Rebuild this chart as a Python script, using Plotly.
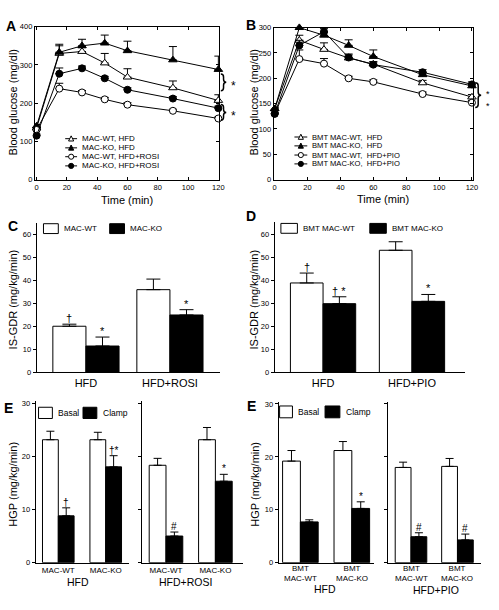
import plotly.graph_objects as go

W, H = 499, 610
FONT = "Liberation Sans, Arial, sans-serif"

# ---------------- data ----------------
time_min = [0, 15, 30, 45, 60, 90, 120]

a_wt_hfd = [135, 330, 335, 305, 268, 240, 207]
a_wt_hfd_err = [4, 20, 10, 25, 22, 18, 15]
a_ko_hfd = [140, 333, 350, 357, 337, 313, 288]
a_ko_hfd_err = [4, 21, 17, 21, 25, 35, 35]
a_wt_rosi = [130, 238, 228, 210, 196, 180, 160]
a_wt_rosi_err = [4, 14, 5, 5, 5, 4, 4]
a_ko_rosi = [115, 277, 291, 265, 235, 212, 187]
a_ko_rosi_err = [4, 15, 6, 5, 5, 5, 5]
a_names = ["MAC-WT, HFD", "MAC-KO, HFD", "MAC-WT, HFD+ROSI", "MAC-KO, HFD+ROSI"]

b_wt_hfd = [140, 275, 257, 240, 228, 191, 163]
b_wt_hfd_err = [3, 10, 13, 8, 5, 5, 5]
b_ko_hfd = [140, 300, 285, 265, 243, 207, 185]
b_ko_hfd_err = [3, 5, 5, 11, 13, 5, 5]
b_wt_pio = [130, 238, 229, 200, 193, 169, 152]
b_wt_pio_err = [3, 18, 10, 4, 4, 4, 4]
b_ko_pio = [130, 265, 292, 241, 227, 212, 188]
b_ko_pio_err = [3, 10, 6, 5, 5, 5, 5]
b_names = ["BMT MAC-WT,\u00a0 HFD", "BMT MAC-KO,\u00a0 HFD",
           "BMT MAC-WT,\u00a0 HFD+PIO", "BMT MAC-KO,\u00a0 HFD+PIO"]

c_groups = ["HFD", "HFD+ROSI"]
c_wt = [20.1, 36.0]
c_wt_err = [0.9, 4.6]
c_ko = [11.5, 25.0]
c_ko_err = [3.9, 2.3]
c_marks_wt = ["†", ""]
c_marks_ko = ["*", "*"]

d_groups = ["HFD", "HFD+PIO"]
d_wt = [38.9, 53.1]
d_wt_err = [4.3, 3.7]
d_ko = [29.9, 30.9]
d_ko_err = [3.0, 3.0]
d_marks_wt = ["†", ""]
d_marks_ko = ["† *", "*"]

e1_groups = ["MAC-WT", "MAC-KO"]
e1_hfd_basal = [23.1, 23.1]
e1_hfd_basal_err = [1.6, 1.4]
e1_hfd_clamp = [8.8, 18.0]
e1_hfd_clamp_err = [1.5, 2.1]
e1_hfd_marks = ["†", "†*"]
e1_rosi_basal = [18.3, 23.1]
e1_rosi_basal_err = [1.3, 2.3]
e1_rosi_clamp = [5.0, 15.3]
e1_rosi_clamp_err = [0.75, 1.3]
e1_rosi_marks = ["#", "*"]

e2_groups = ["BMT<br>MAC-WT", "BMT<br>MAC-KO"]
e2_hfd_basal = [19.2, 21.2]
e2_hfd_basal_err = [2.0, 1.7]
e2_hfd_clamp = [7.7, 10.25]
e2_hfd_clamp_err = [0.4, 1.25]
e2_hfd_marks = ["", "*"]
e2_pio_basal = [18.0, 18.2]
e2_pio_basal_err = [1.0, 1.5]
e2_pio_clamp = [4.9, 4.3]
e2_pio_clamp_err = [0.75, 1.1]
e2_pio_marks = ["#", "#"]


def PX(x):
    return x / W


def PY(y):
    return 1 - y / H


fig = go.Figure()
shapes = []
annos = []


def txt(x, y, s, size, bold=False, angle=0, xanchor="center", yanchor="middle"):
    annos.append(dict(x=PX(x), y=PY(y), xref="paper", yref="paper", text=s,
                      showarrow=False, textangle=angle, xanchor=xanchor, yanchor=yanchor,
                      font=dict(family=FONT, size=size, color="black",
                                weight="bold" if bold else "normal")))


# --------------- line panels ---------------
def add_line(x, y, err, sym, fill, xa, ya):
    fig.add_trace(go.Scatter(
        x=x, y=y, mode="lines+markers", xaxis=xa, yaxis=ya, showlegend=False, cliponaxis=False,
        line=dict(color="black", width=1),
        marker=dict(symbol=sym, size=7 if sym == "circle" else 7.5, color=fill,
                    line=dict(color="black", width=1)),
        error_y=dict(type="data", array=err, arrayminus=[0] * len(err), symmetric=False,
                     color="black", thickness=1, width=4)))


line_specs = [("triangle-up", "white"), ("triangle-up", "black"), ("circle", "white"), ("circle", "black")]
for (s, f), yv, ev in zip(line_specs, [a_wt_hfd, a_ko_hfd, a_wt_rosi, a_ko_rosi],
                          [a_wt_hfd_err, a_ko_hfd_err, a_wt_rosi_err, a_ko_rosi_err]):
    add_line(time_min, yv, ev, s, f, "x", "y")
for (s, f), yv, ev in zip(line_specs, [b_wt_hfd, b_ko_hfd, b_wt_pio, b_ko_pio],
                          [b_wt_hfd_err, b_ko_hfd_err, b_wt_pio_err, b_ko_pio_err]):
    add_line(time_min, yv, ev, s, f, "x2", "y2")


# --------------- bar panels ---------------
def add_bars(cats, basal, berr, clamp, cerr, xa, ya, w, cap, marks_w=None, marks_k=None, msize=10):
    xi = list(range(len(cats)))
    fig.add_trace(go.Bar(x=xi, y=basal, width=[w] * len(xi), offset=[-w] * len(xi),
                         xaxis=xa, yaxis=ya, showlegend=False,
                         marker=dict(color="white", line=dict(color="black", width=1)),
                         error_y=dict(type="data", array=berr, arrayminus=[0] * len(xi), symmetric=False,
                                      color="black", thickness=1, width=cap)))
    fig.add_trace(go.Bar(x=xi, y=clamp, width=[w] * len(xi), offset=[0] * len(xi),
                         xaxis=xa, yaxis=ya, showlegend=False,
                         marker=dict(color="black", line=dict(color="black", width=1)),
                         error_y=dict(type="data", array=cerr, arrayminus=[0] * len(xi), symmetric=False,
                                      color="black", thickness=1, width=cap)))
    for marks, vals, errs, off in [(marks_w, basal, berr, -w / 2), (marks_k, clamp, cerr, w / 2)]:
        if not marks:
            continue
        for i, m in enumerate(marks):
            if m:
                annos.append(dict(x=i + off, y=vals[i] + errs[i], xref=xa, yref=ya, text=m,
                                  showarrow=False, yanchor="bottom", yshift=-2,
                                  font=dict(family=FONT, size=msize, color="black")))


add_bars(c_groups, c_wt, c_wt_err, c_ko, c_ko_err, "x3", "y3", 0.394, 7, c_marks_wt, c_marks_ko, 11)
add_bars(d_groups, d_wt, d_wt_err, d_ko, d_ko_err, "x4", "y4", 0.367, 7, d_marks_wt, d_marks_ko, 11)
add_bars(e1_groups, e1_hfd_basal, e1_hfd_basal_err, e1_hfd_clamp, e1_hfd_clamp_err, "x5", "y5",
         0.333, 4, None, e1_hfd_marks)
add_bars(e1_groups, e1_rosi_basal, e1_rosi_basal_err, e1_rosi_clamp, e1_rosi_clamp_err, "x6", "y6",
         0.34, 4, None, e1_rosi_marks)
add_bars(e2_groups, e2_hfd_basal, e2_hfd_basal_err, e2_hfd_clamp, e2_hfd_clamp_err, "x7", "y7",
         0.346, 4, None, e2_hfd_marks)
add_bars(e2_groups, e2_pio_basal, e2_pio_basal_err, e2_pio_clamp, e2_pio_clamp_err, "x8", "y8",
         0.34, 4, None, e2_pio_marks)

# two-line category labels of the BMT panels, placed under their bars
for xa in ["x7", "x8"]:
    for i, lab in enumerate(e2_groups):
        annos.append(dict(x=i, y=PY(578), xref=xa, yref="paper", text=lab, showarrow=False,
                          yanchor="middle", font=dict(family=FONT, size=8, color="black")))

# --------------- axes ---------------
tickf = dict(family=FONT, size=7.5, color="black")


def box_axes(xl, xr, yt, yb, xr_, yr_, ydt):
    common = dict(showline=True, linecolor="black", linewidth=1, mirror="ticks", ticks="inside",
                  ticklen=3, tickcolor="black", showgrid=False, zeroline=False, tickfont=tickf)
    xa = dict(domain=[PX(xl), PX(xr)], range=xr_, tickmode="array", tickvals=list(range(0, 121, 20)), **common)
    ya = dict(domain=[PY(yb), PY(yt)], range=yr_, dtick=ydt, tick0=0, **common)
    return xa, ya


def bar_axes(xl, xr, yt, yb, xr_, yr_, cats, ylabels=True, xfont=11, ydt=10, xlabels=True):
    xa = dict(domain=[PX(xl), PX(xr)], range=xr_, showline=True, linecolor="black", linewidth=1,
              ticks="", showgrid=False, zeroline=False, tickmode="array",
              tickvals=list(range(len(cats))), ticktext=cats, showticklabels=xlabels,
              tickfont=dict(family=FONT, size=xfont, color="black"))
    ya = dict(domain=[PY(yb), PY(yt)], range=yr_, showline=True, linecolor="black", linewidth=1,
              ticks="outside", ticklen=3, tickcolor="black", showgrid=False, zeroline=False,
              dtick=ydt, tick0=0, showticklabels=ylabels, tickfont=tickf)
    return xa, ya


xa1, ya1 = box_axes(34.3, 221, 23, 178.3, [-1.1, 120.65], [0, 400], 100)
xa2, ya2 = box_axes(276, 478, 24, 178.3, [-0.6, 120.8], [0, 300], 50)
xa3, ya3 = bar_axes(36, 222, 222, 374, [-0.588, 1.6], [0, 65.1], c_groups)
xa4, ya4 = bar_axes(277, 470, 221, 374, [-0.544, 1.6], [0, 65.5], d_groups)
xa5, ya5 = bar_axes(35, 130, 403, 567, [-0.479, 1.5], [0, 30.37], e1_groups, True, 8)
xa6, ya6 = bar_axes(143, 245, 403, 567, [-0.48, 1.56], [0, 30.37], e1_groups, False, 8)
xa7, ya7 = bar_axes(281, 378, 404, 567, [-0.423, 1.44], [0, 30.37], e2_groups, True, 8, xlabels=False)
xa8, ya8 = bar_axes(392, 486, 404, 567, [-0.489, 1.51], [0, 30.37], e2_groups, False, 8, xlabels=False)


# --------------- line legends (drawn) ---------------
def leg_line(x0, x1, y, sym, fill, label, size):
    shapes.append(dict(type="line", xref="paper", yref="paper", x0=PX(x0), x1=PX(x1), y0=PY(y), y1=PY(y),
                       line=dict(color="black", width=1)))
    cx = (x0 + x1) / 2
    r = 2.6
    if sym == "circle":
        shapes.append(dict(type="circle", xref="paper", yref="paper", x0=PX(cx - r), x1=PX(cx + r),
                           y0=PY(y + r), y1=PY(y - r), fillcolor=fill, line=dict(color="black", width=1)))
    else:
        p = "M {},{} L {},{} L {},{} Z".format(PX(cx - r), PY(y + r * 0.9), PX(cx + r), PY(y + r * 0.9),
                                              PX(cx), PY(y - r * 1.1))
        shapes.append(dict(type="path", xref="paper", yref="paper", path=p, fillcolor=fill,
                           line=dict(color="black", width=1)))
    txt(x1 + 3, y, label, size, xanchor="left")


for (s, f), nm, yy in zip(line_specs, a_names, [136.7, 146, 155, 164.3]):
    leg_line(65, 77, yy, s, f, nm, 8)
for (s, f), nm, yy in zip(line_specs, b_names, [135, 144, 153.3, 162.3]):
    leg_line(297, 310, yy, s, f, nm, 7.6)


# --------------- bar legends (drawn) ---------------
def leg_box(x0, x1, yt, yb, fill, label, size):
    shapes.append(dict(type="rect", xref="paper", yref="paper", x0=PX(x0), x1=PX(x1), y0=PY(yb), y1=PY(yt),
                       fillcolor=fill, line=dict(color="black", width=1)))
    txt(x1 + 4, (yt + yb) / 2, label, size, xanchor="left")


leg_box(43, 58, 223, 233, "white", "MAC-WT", 8)
leg_box(110, 125, 223, 233, "black", "MAC-KO", 8)
leg_box(283.3, 300, 222.7, 232.7, "white", "BMT MAC-WT", 8)
leg_box(373.3, 390, 222.7, 232.7, "black", "BMT MAC-KO", 8)
leg_box(38, 52, 409.3, 420.7, "white", "Basal", 8.5)
leg_box(83, 97, 409.3, 420.7, "black", "Clamp", 8.5)
leg_box(282, 295, 408, 420, "white", "Basal", 8.5)
leg_box(328, 343, 408, 420, "black", "Clamp", 8.5)


# --------------- braces ---------------
def brace(x0, x1, yt, yb):
    xm = (x0 + x1) / 2
    ym = (yt + yb) / 2
    d = 3
    P = lambda x, y: "{:.5f},{:.5f}".format(PX(x), PY(y))
    path = ("M " + P(x0, yt) + " Q " + P(xm, yt) + " " + P(xm, yt + d) + " L " + P(xm, ym - d) +
            " Q " + P(xm, ym) + " " + P(x1, ym) + " Q " + P(xm, ym) + " " + P(xm, ym + d) +
            " L " + P(xm, yb - d) + " Q " + P(xm, yb) + " " + P(x0, yb))
    shapes.append(dict(type="path", xref="paper", yref="paper", path=path, line=dict(color="black", width=1.5)))


brace(222.5, 228, 71, 88)
brace(222.5, 228, 102, 118)
txt(231, 83, "*", 12, xanchor="left")
txt(231, 114, "*", 12, xanchor="left")
brace(480, 486, 80, 105)
txt(489, 97, "*<br>*", 9, xanchor="left")

# --------------- titles / labels ---------------
txt(12, 100, "Blood glucose (mg/dl)", 11, angle=-90)
txt(128, 199, "Time (min)", 11)
txt(256, 100, "Blood glucose (mg/dl)", 11, angle=-90)
txt(387, 198, "Time (min)", 11)
txt(12, 300, "IS-GDR (mg/kg/min)", 11, angle=-90)
txt(256, 300, "IS-GDR (mg/kg/min)", 11, angle=-90)
txt(12, 487, "HGP (mg/kg/min)", 11, angle=-90)
txt(257, 487, "HGP (mg/kg/min)", 11, angle=-90)
txt(78, 587, "HFD", 10.5)
txt(187, 587, "HFD+ROSI", 10.5)
txt(328, 594, "HFD", 10.5)
txt(440, 595, "HFD+PIO", 10.5)

txt(10, 22, "A", 14, bold=True)
txt(253, 21, "B", 14, bold=True)
txt(12, 225, "C", 14, bold=True)
txt(253, 215, "D", 14, bold=True)
txt(8, 410, "E", 14, bold=True)
txt(254, 408, "E", 14, bold=True)

fig.update_layout(
    width=W, height=H, autosize=False, margin=dict(l=0, r=0, t=0, b=0),
    paper_bgcolor="white", plot_bgcolor="white", barmode="overlay",
    font=dict(family=FONT, color="black"),
    xaxis=xa1, yaxis=ya1, xaxis2=xa2, yaxis2=ya2, xaxis3=xa3, yaxis3=ya3, xaxis4=xa4, yaxis4=ya4,
    xaxis5=xa5, yaxis5=ya5, xaxis6=xa6, yaxis6=ya6, xaxis7=xa7, yaxis7=ya7, xaxis8=xa8, yaxis8=ya8,
    shapes=shapes, annotations=annos, showlegend=False,
)
for i in range(1, 9):
    sfx = "" if i == 1 else str(i)
    fig.layout["xaxis" + sfx]["anchor"] = "y" + sfx
    fig.layout["yaxis" + sfx]["anchor"] = "x" + sfx

fig.write_html(
    "out.html",
    config={"displayModeBar": False},
    post_script="document.body.style.margin='0';document.body.style.padding='0';"
                "document.documentElement.style.overflow='hidden';document.body.style.overflow='hidden';",
)
